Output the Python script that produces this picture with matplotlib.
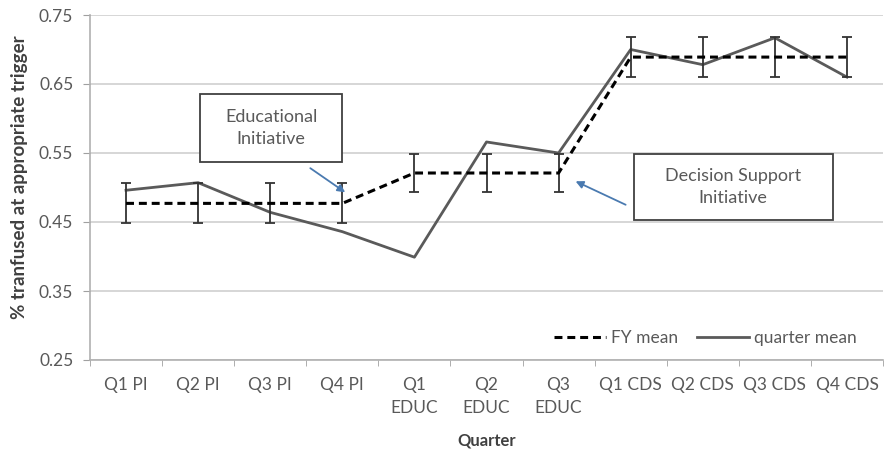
import matplotlib
matplotlib.use("Agg")
import matplotlib.pyplot as plt
from matplotlib.lines import Line2D
from matplotlib.patches import Rectangle
import numpy as np

quarters = ["Q1 PI", "Q2 PI", "Q3 PI", "Q4 PI", "Q1\nEDUC", "Q2\nEDUC", "Q3\nEDUC",
            "Q1 CDS", "Q2 CDS", "Q3 CDS", "Q4 CDS"]
quarter_mean = [0.496, 0.507, 0.464, 0.436, 0.399, 0.566, 0.550, 0.700, 0.678, 0.717, 0.660]
fy_mean = [0.477, 0.477, 0.477, 0.477, 0.521, 0.521, 0.521, 0.689, 0.689, 0.689, 0.689]
fy_err = [0.029, 0.029, 0.029, 0.029, 0.028, 0.028, 0.028, 0.029, 0.029, 0.029, 0.029]
y_ticks = [0.25, 0.35, 0.45, 0.55, 0.65, 0.75]

plt.rcParams["font.family"] = ["Lato", "DejaVu Sans"]
txt = "#595959"
dash = (0, (2.6, 1.6))

fig = plt.figure(figsize=(8.86, 4.58), dpi=100)
ax = fig.add_axes([90 / 886, 1 - 360 / 458, 793 / 886, 345 / 458])

x = np.arange(len(quarters))
ax.plot(x, quarter_mean, color="#5a5a5a", lw=2.0, zorder=3)
ax.errorbar(x, fy_mean, yerr=fy_err, color="black", lw=2.2, ls=dash,
            elinewidth=1.3, ecolor="#333333", capsize=3.5, capthick=1.3, zorder=4)

ax.set_xlim(-0.5, len(quarters) - 0.5)
ax.set_ylim(0.25, 0.75)
ax.set_yticks(y_ticks)
ax.set_yticklabels([f"{v:.2f}" for v in y_ticks])
ax.set_xticks(x)
ax.set_xticklabels(quarters, linespacing=1.55)
ax.set_xticks(np.arange(-0.5, len(quarters), 1.0), minor=True)
ax.tick_params(axis="x", which="major", length=0, pad=12, labelsize=12.5, labelcolor=txt)
ax.tick_params(axis="x", which="minor", length=4, color="#a0a0a0", direction="out")
ax.tick_params(axis="y", length=5, color="#a0a0a0", labelsize=12.5, labelcolor=txt, pad=7)

ax.grid(axis="y", color="#d0d0d0", lw=1.2)
ax.set_axisbelow(True)
for s in ["top", "right"]:
    ax.spines[s].set_visible(False)
for s in ["left", "bottom"]:
    ax.spines[s].set_color("#b0b0b0")
    ax.spines[s].set_linewidth(1.2)

ax.set_ylabel("% tranfused at appropriate trigger", fontsize=13.5, fontweight="bold",
              color="#404040")
ax.yaxis.set_label_coords(-0.078, 0.53)
ax.set_xlabel("Quarter", fontsize=12, fontweight="bold", color="#404040", labelpad=12)

handles = [Line2D([], [], color="black", lw=2.2, ls=dash),
           Line2D([], [], color="#5a5a5a", lw=2.0)]
ax.legend(handles, ["FY mean", "quarter mean"], loc="center", ncol=2, frameon=False,
          fontsize=12.5, handlelength=3.0, handletextpad=0.3, columnspacing=1.1,
          bbox_to_anchor=(0.776, 0.064), labelcolor=txt)

# Annotation boxes
arrow = dict(arrowstyle="-|>", color="#4a7ab0", lw=1.3, shrinkA=0, shrinkB=0,
             mutation_scale=11)
ax.add_patch(Rectangle((1.03, 0.537), 1.97, 0.098, fc="white", ec="#404040",
                       lw=1.3, zorder=5))
ax.text(2.014, 0.586, "Educational\nInitiative", ha="center", va="center",
        fontsize=13, color=txt, linespacing=1.5, zorder=6)
ax.annotate("", xy=(3.04, 0.493), xytext=(2.556, 0.528), arrowprops=arrow, zorder=6)

ax.add_patch(Rectangle((7.04, 0.453), 2.77, 0.0956, fc="white", ec="#404040",
                       lw=1.3, zorder=5))
ax.text(8.42, 0.5007, "Decision Support\nInitiative", ha="center", va="center",
        fontsize=13, color=txt, linespacing=1.5, zorder=6)
ax.annotate("", xy=(6.236, 0.509), xytext=(6.93, 0.475), arrowprops=arrow, zorder=6)

fig.savefig("out.png", dpi=100)
